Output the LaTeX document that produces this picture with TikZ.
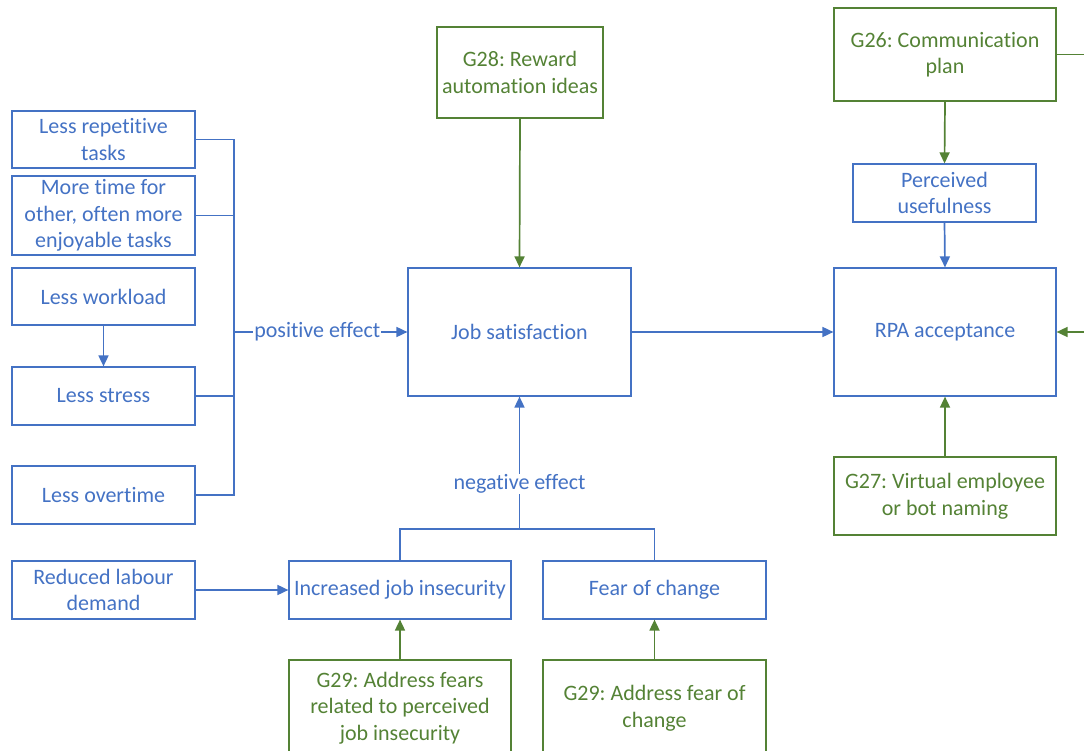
\documentclass[tikz,border=0pt]{standalone}
\usepackage{fontspec}
\setmainfont[Ligatures=NoCommon]{Carlito}
\usetikzlibrary{arrows.meta}
\definecolor{cblue}{HTML}{4472C4}
\definecolor{cgreen}{HTML}{548235}
\frenchspacing
\tikzset{
  box/.style={draw=cblue, text=cblue, line width=1.2pt, inner sep=0pt, align=center,
    font=\fontsize{22}{26.5}\selectfont},
  gbox/.style={box, draw=cgreen, text=cgreen},
  bl/.style={draw=cblue, line width=1.7pt},
  gl/.style={draw=cgreen, line width=1.7pt},
  arr/.style={-{Triangle[length=11pt,width=10pt]}},
  lbl/.style={fill=white, text=cblue, inner sep=1pt, font=\fontsize{22}{26.5}\selectfont},
}
\begin{document}
\begin{tikzpicture}[x=1pt,y=-1pt]
\useasboundingbox (0,0) rectangle (1084,751);
\clip (0,0) rectangle (1084,751);
% left blue boxes
\node[box, minimum width=183pt, minimum height=57pt] (b1) at (103.5,139.5) {Less repetitive\\tasks};
\node[box, minimum width=183pt, minimum height=79pt] (b2) at (103.5,215.5) {More time for\\other, often more\\enjoyable tasks};
\node[box, minimum width=183pt, minimum height=57pt] (b3) at (103.5,296.5) {Less workload};
\node[box, minimum width=183pt, minimum height=58pt] (b4) at (103.5,396) {Less stress};
\node[box, minimum width=183pt, minimum height=58pt] (b5) at (103.5,495) {Less overtime};
\node[box, minimum width=183pt, minimum height=58pt] (rld) at (103.5,590) {Reduced labour\\demand};
% center
\node[box, minimum width=223pt, minimum height=128pt] (js) at (519.5,332) {Job satisfaction};
\node[gbox, minimum width=166pt, minimum height=91pt] (g28) at (520,72.5) {G28: Reward\\automation ideas};
\node[box, minimum width=222pt, minimum height=58pt] (iji) at (400,590) {Increased job insecurity};
\node[box, minimum width=223pt, minimum height=58pt] (foc) at (654.5,590) {Fear of change};
\node[gbox, minimum width=222pt, minimum height=96pt] (g29a) at (400,708) {G29: Address fears\\related to perceived\\job insecurity};
\node[gbox, minimum width=223pt, minimum height=96pt] (g29b) at (654.5,708) {G29: Address fear of\\change};
% right
\node[box, minimum width=222pt, minimum height=128pt] (rpa) at (945,332) {RPA acceptance};
\node[box, minimum width=183pt, minimum height=58pt] (pu) at (944.5,193) {Perceived\\usefulness};
\node[gbox, minimum width=222pt, minimum height=93pt] (g26) at (945,54.5) {G26: Communication\\plan};
\node[gbox, minimum width=222pt, minimum height=78pt] (g27) at (945,496) {G27: Virtual employee\\or bot naming};
% coordinates
\coordinate (bt) at (234,139.5);
\coordinate (bb) at (234,495);
\coordinate (nj) at (519.5,529);
\coordinate (g26r) at (1092,54.5);
\coordinate (rin) at (1092,332);
% left bus
\draw[bl] (b1.east) -- (bt) -- (bb) -- (b5.east);
\draw[bl] (b2.east) -- (b2.east -| bt);
\draw[bl] (b4.east) -- (b4.east -| bt);
\draw[bl, arr] (b3.south) -- (b4.north);
\draw[bl, arr] (bt |- js.west) -- node[lbl, pos=0.48]{positive effect} (js.west);
% negative
\draw[bl] (iji.north) |- (foc.north |- nj) -- (foc.north);
\draw[bl, arr] (nj) -- node[lbl, pos=0.34]{negative effect} (js.south);
\draw[bl, arr] (rld.east) -- (iji.west);
% green arrows
\draw[gl, arr] (g28.south) -- (js.north);
\draw[gl, arr] (g29a.north) -- (iji.south);
\draw[gl, arr] (g29b.north) -- (foc.south);
\draw[gl, arr] (g26.south) -- (pu.north);
\draw[gl, arr] (g27.north) -- (rpa.south);
\draw[gl] (g26.east) -- (g26r);
\draw[gl, arr] (rin) -- (rpa.east);
% blue
\draw[bl, arr] (pu.south) -- (rpa.north);
\draw[bl, arr] (js.east) -- (rpa.west);
\end{tikzpicture}
\end{document}
